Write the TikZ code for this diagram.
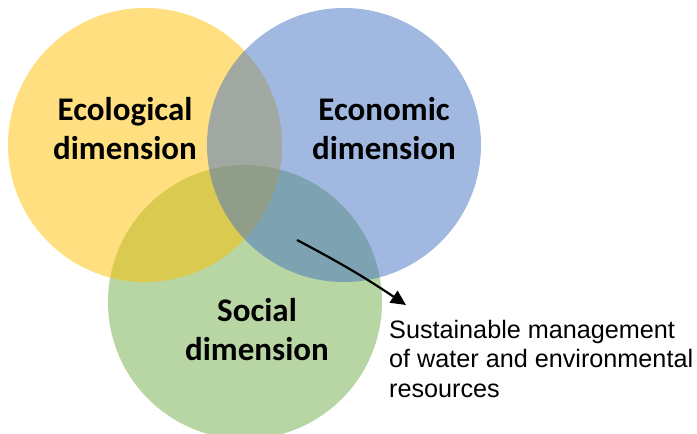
\documentclass[tikz,border=0pt]{standalone}
\usepackage{fontspec}
\setmainfont{Liberation Sans}
\newfontfamily\calibri{Carlito}
\usepackage{xcolor}
\usetikzlibrary{arrows.meta}

\definecolor{ogreen}{HTML}{70AD47}
\definecolor{oyellow}{HTML}{FFC000}
\definecolor{oblue}{HTML}{4472C4}

\tikzset{
  dimcirc/.style={circle, minimum size=274pt, inner sep=0pt, fill opacity=0.5},
  dimlabel/.style={align=center, inner sep=0pt, font=\calibri\bfseries\fontsize{33}{39}\selectfont},
  notelabel/.style={align=left, inner sep=0pt, font=\fontsize{25.2}{29.5}\selectfont},
  pointer/.style={-{Triangle[length=15pt, width=14pt]}, line width=2.2pt}
}

\begin{document}
\begin{tikzpicture}[x=1pt, y=-1pt]
    \useasboundingbox (0,0) rectangle (697,434);

    %% circles
    \node[dimcirc, fill=ogreen]  (social) at (245,302) {};
    \node[dimcirc, fill=oyellow] (eco)    at (145,145) {};
    \node[dimcirc, fill=oblue]   (econ)   at (344,145) {};

    %% labels
    \node[dimlabel] (ecolabel)    at (125,129) {Ecological\\dimension};
    \node[dimlabel] (econlabel)   at (384,129) {Economic\\dimension};
    \node[dimlabel] (sociallabel) at (257,330) {Social\\dimension};

    %% note
    \node[notelabel, anchor=north west] (note) at (389,320)
        {Sustainable management\\of water and environmental\\resources};
    \coordinate (overlap) at (297,240);
    \draw[pointer] (overlap) to[bend left=3] ([xshift=17pt, yshift=15pt]note.north west);
\end{tikzpicture}
\end{document}
